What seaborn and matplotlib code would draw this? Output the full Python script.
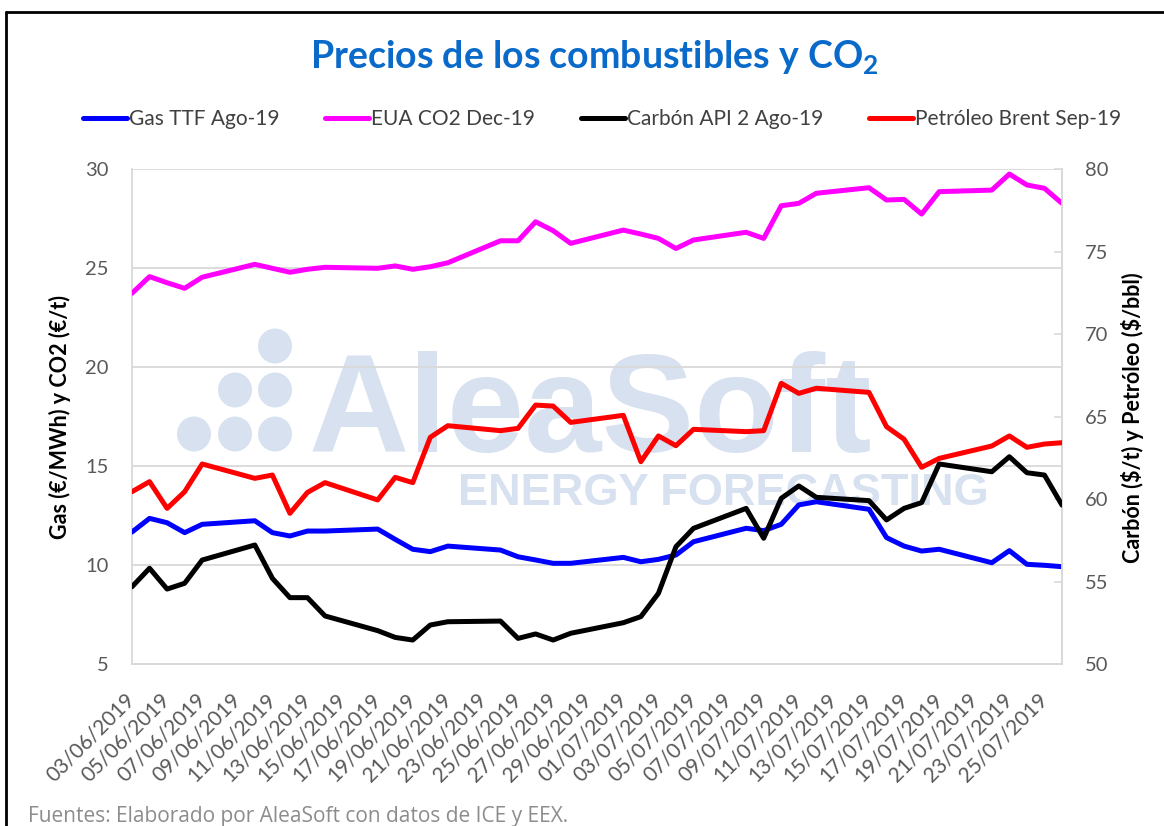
import pandas as pd
import numpy as np
import seaborn as sns
import matplotlib.pyplot as plt
import matplotlib.dates as mdates
from matplotlib.lines import Line2D
from matplotlib.patches import Ellipse

# trading days 03/06/2019 - 26/07/2019
fechas = pd.bdate_range('2019-06-03', '2019-07-26')

gas_ttf = [11.68, 12.37, 12.15, 11.65, 12.07, 12.25, 11.65, 11.48, 11.73, 11.73,
           11.83, 11.31, 10.81, 10.69, 10.97, 10.77, 10.43, 10.27, 10.10, 10.10,
           10.40, 10.18, 10.30, 10.52, 11.19, 11.87, 11.75, 12.07, 13.05, 13.21,
           12.83, 11.40, 10.97, 10.72, 10.81, 10.13, 10.74, 10.05, 10.00, 9.93]

eua_co2 = [23.74, 24.58, 24.27, 23.99, 24.55, 25.20, 25.00, 24.80, 24.95, 25.05,
           25.00, 25.12, 24.95, 25.08, 25.28, 26.39, 26.39, 27.35, 26.90, 26.26,
           26.93, 26.73, 26.51, 26.00, 26.43, 26.82, 26.51, 28.16, 28.28, 28.79,
           29.07, 28.45, 28.48, 27.74, 28.87, 28.95, 29.76, 29.21, 29.04, 28.28]

carbon_api2 = [54.70, 55.82, 54.56, 54.91, 56.32, 57.23, 55.21, 54.04, 54.04, 52.93,
               52.04, 51.63, 51.47, 52.38, 52.58, 52.62, 51.57, 51.84, 51.47, 51.88,
               52.52, 52.89, 54.30, 57.13, 58.24, 59.45, 57.64, 60.06, 60.81, 60.12,
               59.92, 58.75, 59.45, 59.80, 62.14, 61.67, 62.58, 61.61, 61.47, 59.65]

brent = [60.46, 61.07, 59.45, 60.46, 62.14, 61.27, 61.47, 59.15, 60.42, 61.01,
         59.96, 61.33, 61.01, 63.76, 64.46, 64.16, 64.30, 65.71, 65.65, 64.66,
         65.09, 62.28, 63.84, 63.25, 64.24, 64.10, 64.16, 67.03, 66.42, 66.73,
         66.48, 64.40, 63.64, 61.94, 62.48, 63.23, 63.84, 63.15, 63.35, 63.43]

etiquetas = ['Gas TTF Ago-19', 'EUA CO2 Dec-19', 'Carbón API 2 Ago-19', 'Petróleo Brent Sep-19']
colores = ['#0000FF', '#FF00FF', '#000000', '#FF0000']

sns.set_style('white')
plt.rcParams['font.family'] = ['Lato', 'DejaVu Sans']
plt.rcParams['mathtext.fontset'] = 'custom'
plt.rcParams['mathtext.rm'] = 'Lato'
plt.rcParams['mathtext.bf'] = 'Lato:bold'

W, H = 1164, 826
fig = plt.figure(figsize=(W / 100, H / 100), dpi=100)
ax = fig.add_axes([132 / W, 1 - 664.3 / H, 930 / W, 495 / H])
ax2 = ax.twinx()

df = pd.DataFrame({'fecha': fechas, 'gas': gas_ttf, 'eua': eua_co2,
                   'carbon': carbon_api2, 'brent': brent})

lw = 3.6
sns.lineplot(data=df, x='fecha', y='gas', ax=ax, color=colores[0], lw=lw, zorder=3)
sns.lineplot(data=df, x='fecha', y='eua', ax=ax, color=colores[1], lw=lw, zorder=3)
sns.lineplot(data=df, x='fecha', y='carbon', ax=ax2, color=colores[2], lw=lw, zorder=3)
sns.lineplot(data=df, x='fecha', y='brent', ax=ax2, color=colores[3], lw=lw, zorder=3)

# watermark
wm = '#D7E1F0'
for cx, cy in [(194, 434), (235, 434), (275, 434), (235, 390), (275, 390), (275, 346)]:
    ax.add_patch(Ellipse((cx / W, 1 - cy / H), 34 / W, 35 / H, transform=fig.transFigure,
                         color=wm, zorder=0.1, lw=0))
ax.text(309 / W, 1 - 452 / H, 'AleaSoft', transform=fig.transFigure, fontsize=100,
        family='Liberation Sans', weight='bold', color=wm, ha='left', va='baseline', zorder=0.1)
ax.text(458 / W, 1 - 505 / H, 'ENERGY FORECASTING', transform=fig.transFigure, fontsize=32.5,
        family='Liberation Sans', weight='bold', color=wm, ha='left', va='baseline', zorder=0.1)

# axes
ax.set_ylim(5, 30)
ax.set_yticks([5, 10, 15, 20, 25, 30])
ax2.set_ylim(50, 80)
ax2.set_yticks([50, 55, 60, 65, 70, 75, 80])
ax.set_xlim(fechas[0], fechas[-1])
ticks = pd.date_range('2019-06-03', '2019-07-25', freq='2D')
ax.set_xticks(ticks)
ax.xaxis.set_major_formatter(mdates.DateFormatter('%d/%m/%Y'))
plt.setp(ax.get_xticklabels(), rotation=45, ha='right', va='center', rotation_mode='anchor')

ax.grid(axis='y', color='#D9D9D9', lw=1.3, zorder=0.5)
ax.set_axisbelow(True)
ax.set_xlabel('')
ax.set_ylabel('')
ax2.set_ylabel('')

tc = '#595959'
ax.tick_params(axis='y', length=0, pad=17, labelsize=14.5, labelcolor=tc)
ax.tick_params(axis='x', direction='in', length=6, width=1.2, color='#D9D9D9',
               pad=23, labelsize=15, labelcolor=tc)
ax2.tick_params(axis='y', direction='in', length=6, width=1.2, color='#D9D9D9',
                pad=16.5, labelsize=14.5, labelcolor=tc)

for a in (ax, ax2):
    for s in a.spines.values():
        s.set_color('#D9D9D9')
        s.set_linewidth(1.3)
    a.spines['top'].set_visible(False)
ax2.spines['left'].set_visible(False)

fig.text(60 / W, 1 - 417 / H, 'Gas (€/MWh) y CO2 (€/t)', rotation=90, ha='center', va='center',
         fontsize=15.5, weight='bold', color='black')
fig.text(1133 / W, 1 - 418 / H, 'Carbón (\\$/t) y Petróleo (\\$/bbl)', rotation=90, ha='center',
         va='center', fontsize=15.5, weight='bold', color='black')

# title
fig.text(594 / W, 1 - 58 / H, r'Precios de los combustibles y CO$_{\mathbf{2}}$', ha='center',
         va='center', fontsize=27, weight='bold', color='#0A6AC9')

# legend
handles = [Line2D([0], [0], color=c, lw=lw) for c in colores]
fig.legend(handles, etiquetas, loc='center', bbox_to_anchor=(602 / W, 1 - 119 / H), ncol=4,
           frameon=False, fontsize=15, handlelength=2.1, handletextpad=0.1, columnspacing=2.2,
           labelcolor='#404040')

# footer
fig.text(28 / W, 1 - 806 / H, 'Fuentes: Elaborado por AleaSoft con datos de ICE y EEX.',
         ha='left', va='top', fontsize=15, family='Open Sans', color='#8C8C8C')

# outer border
fig.add_artist(Line2D([6 / W, 6 / W], [0, 1 - 12 / H], color='black', lw=2, transform=fig.transFigure))
fig.add_artist(Line2D([6 / W, 1], [1 - 12 / H, 1 - 12 / H], color='black', lw=2, transform=fig.transFigure))

fig.savefig('out.png', dpi=100)
